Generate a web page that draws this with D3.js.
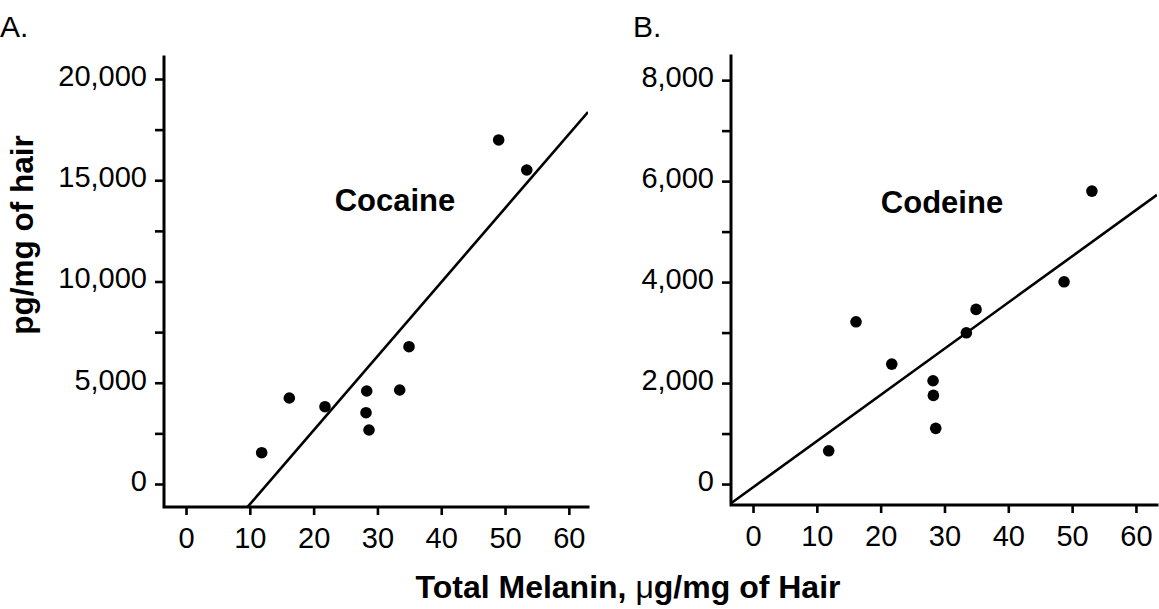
<!DOCTYPE html>
<html>
<head>
<meta charset="utf-8">
<script src="https://cdn.jsdelivr.net/npm/d3@7"></script>
<style>
  html, body { margin: 0; padding: 0; background: #fff; }
  svg { display: block; font-family: "Liberation Sans", Arial, Helvetica, sans-serif; }
</style>
</head>
<body>
<svg id="chart" width="1159" height="609"></svg>
<script>
// Total melanin content (µg/mg of hair) for each subject
const cocaineMelanin = [11.86, 16.19, 21.78, 28.32, 28.21, 28.68, 33.49, 34.95, 49.0, 53.4];
// Cocaine concentration (pg/mg of hair)
const cocaineConc = [1546, 4247, 3817, 4593, 3521, 2667, 4642, 6780, 16990, 15506];

const codeineMelanin = [11.86, 16.14, 21.74, 28.21, 28.26, 28.63, 33.43, 34.95, 48.74, 53.1];
// Codeine concentration (pg/mg of hair)
const codeineConc = [659, 3214, 2376, 2046, 1756, 1103, 2996, 3459, 4006, 5802];

// Linear regression fits [slope, intercept]
const cocaineFit = [365.5, -4658];
const codeineFit = [91.5, -65];

const xTicks = [0, 10, 20, 30, 40, 50, 60];
const cocaineYTicks = [0, 5000, 10000, 15000, 20000];
const cocaineYMinor = [2500, 7500, 12500, 17500];
const codeineYTicks = [0, 2000, 4000, 6000, 8000];
const codeineYMinor = [1000, 3000, 5000, 7000];

const svg = d3.select("#chart");
const fmt = d3.format(",");
const FONT = 29;

function panel(opts) {
  const x = d3.scaleLinear().domain(opts.xDomain).range([opts.left, opts.right]);
  const y = d3.scaleLinear().domain(opts.yDomain).range([opts.bottom, opts.top]);
  const g = svg.append("g");

  // clip region for the fitted line
  const clipId = "clip-" + opts.name;
  svg.append("clipPath").attr("id", clipId)
    .append("rect")
    .attr("x", opts.left).attr("y", opts.top)
    .attr("width", opts.right - opts.left).attr("height", opts.bottom - opts.top);

  // y axis: labelled major ticks + unlabelled minor ticks
  const yAxis = d3.axisLeft(y).tickValues(opts.yTicks).tickFormat(fmt)
    .tickSize(9).tickPadding(8).tickSizeOuter(0);
  const ya = g.append("g").attr("transform", `translate(${opts.left},0)`).call(yAxis);
  const yMinor = d3.axisLeft(y).tickValues(opts.yMinor).tickFormat("").tickSize(9).tickSizeOuter(0);
  const ym = g.append("g").attr("transform", `translate(${opts.left},0)`).call(yMinor);

  const xAxis = d3.axisBottom(x).tickValues(xTicks).tickFormat(d3.format("d"))
    .tickSize(8).tickPadding(12).tickSizeOuter(0);
  const xa = g.append("g").attr("transform", `translate(0,${opts.bottom})`).call(xAxis);

  [ya, ym, xa].forEach(a => {
    a.select(".domain").remove();
    a.selectAll(".tick line").attr("stroke", "#000").attr("stroke-width", 2.6);
    a.selectAll(".tick text").attr("fill", "#000")
      .style("font-size", FONT + "px").style("font-family", "'Liberation Sans', Arial, sans-serif");
  });
  ya.selectAll(".tick text").attr("dy", "0.22em");

  // axis frame lines (L-shaped)
  g.append("path")
    .attr("d", `M${opts.left},${opts.top} V${opts.bottom} H${opts.right}`)
    .attr("fill", "none").attr("stroke", "#000").attr("stroke-width", 3)
    .attr("stroke-linecap", "square");

  // regression line
  const [m, b] = opts.fit;
  const xs = opts.xDomain;
  g.append("line")
    .attr("clip-path", `url(#${clipId})`)
    .attr("x1", x(xs[0])).attr("y1", y(m * xs[0] + b))
    .attr("x2", x(xs[1])).attr("y2", y(m * xs[1] + b))
    .attr("stroke", "#000").attr("stroke-width", 2.6);

  // data points
  g.selectAll("circle.pt").data(opts.xs.map((v, i) => [v, opts.ys[i]]))
    .enter().append("circle").attr("class", "pt")
    .attr("cx", d => x(d[0])).attr("cy", d => y(d[1])).attr("r", 5.8)
    .attr("fill", "#000");

  // drug label
  g.append("text").attr("x", opts.labelX).attr("y", opts.labelY)
    .attr("text-anchor", "middle").style("font-weight", "bold").style("font-size", "31px")
    .text(opts.name);

  // panel letter
  g.append("text").attr("x", opts.letterX).attr("y", 37)
    .style("font-size", "30px").text(opts.letter);
}

panel({
  name: "Cocaine", letter: "A.", letterX: 0,
  left: 164, right: 588, top: 57, bottom: 507,
  xDomain: [-3.45, 63.0], yDomain: [-1136, 21086],
  yTicks: cocaineYTicks, yMinor: cocaineYMinor,
  xs: cocaineMelanin, ys: cocaineConc, fit: cocaineFit,
  labelX: 395, labelY: 211
});

panel({
  name: "Codeine", letter: "B.", letterX: 633,
  left: 731, right: 1157, top: 56, bottom: 505,
  xDomain: [-3.45, 63.3], yDomain: [-415, 8478],
  yTicks: codeineYTicks, yMinor: codeineYMinor,
  xs: codeineMelanin, ys: codeineConc, fit: codeineFit,
  labelX: 942, labelY: 213
});

// shared axis titles
svg.append("text")
  .attr("transform", "translate(33,235) rotate(-90)")
  .attr("text-anchor", "middle")
  .style("font-weight", "bold").style("font-size", "31.5px")
  .text("pg/mg of hair");

const xt = svg.append("text")
  .attr("x", 628).attr("y", 598).attr("text-anchor", "middle")
  .style("font-weight", "bold").style("font-size", "32px");
xt.append("tspan").text("Total Melanin, ");
xt.append("tspan").style("font-weight", "normal").text("\u03bc");
xt.append("tspan").text("g/mg of Hair");
</script>
</body>
</html>
